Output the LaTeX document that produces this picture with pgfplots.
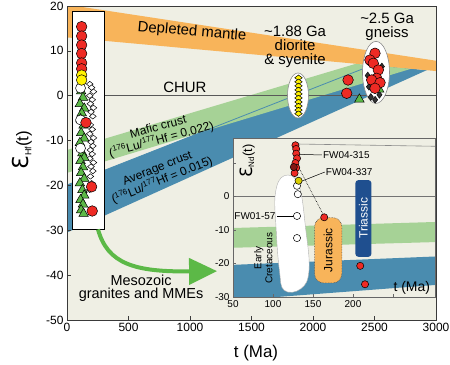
\documentclass[border=0pt]{standalone}
\usepackage{pgfplots}
\pgfplotsset{compat=1.18}
\usepackage{fontspec}
\setmainfont{Liberation Sans}
\newfontfamily\dejavu{DejaVu Sans}
\usetikzlibrary{arrows.meta}
\definecolor{bgc}{HTML}{EFEFE4}
\definecolor{dmc}{HTML}{F8B45A}
\definecolor{gbc}{HTML}{A6D296}
\definecolor{bbc}{HTML}{4A8CAF}
\definecolor{redc}{HTML}{EE2A24}
\definecolor{yelc}{HTML}{FFF200}
\definecolor{grc}{HTML}{5CB947}
\definecolor{navy}{HTML}{1F4F8F}
\definecolor{framec}{HTML}{3A3A3A}
\begin{document}
\begin{tikzpicture}[x=1bp,y=1bp]
\useasboundingbox (0,0) rectangle (450,364);
% ---------------- main axis ----------------
\begin{axis}[
  at={(67bp,44bp)}, anchor=south west,
  scale only axis, width=369bp, height=314bp,
  xmin=0, xmax=3000, ymin=-50, ymax=20,
  axis background/.style={fill=bgc},
  axis on top,
  axis line style={framec, line width=0.8pt},
  tick align=inside, tick pos=left, major tick length=4bp,
  tick style={framec, line width=0.6pt},
  xtick={0,500,1000,1500,2000,2500,3000},
  xticklabels={0,500,1000,1500,2000,2500,3000},
  ytick={-50,-40,-30,-20,-10,0,10,20},
  yticklabels={-50,-40,-30,-20,-10,0,10,20},
  ticklabel style={font=\fontsize{12}{12}\selectfont},
]
% bands
\addplot[fill=bbc, draw=none] coordinates {(0,-19.9) (2480,6.8) (2925,5.7) (0,-30.5)} -- cycle;
\addplot[fill=gbc, draw=none] coordinates {(0,-12.1) (2346,7.1) (2796,6.0) (0,-17.2)} -- cycle;
\addplot[bbc, line width=0.8bp] coordinates {(0,-19.9) (2480,6.8)};
\addplot[fill=dmc, draw=none] coordinates {(0,20.3) (3000,7.8) (3000,5.5) (0,13)} -- cycle;
% CHUR
\addplot[black!65, line width=0.7bp] coordinates {(0,0) (3000,0)};

% Mesozoic box
\draw[fill=white, draw=black, line width=0.5bp] (40,-29.7) rectangle (300,18.9);
\addplot[only marks, mark=diamond*, mark size=4.5bp, mark options={fill=white, draw=black, line width=0.5bp, yscale=0.6}] coordinates {
(185,2.6) (200,1.8) (215,0.9) (185,0.0) (205,-0.9) (190,-1.8) (215,-2.7) (195,-3.6) (210,-4.6) (190,-6.5) (205,-7.5) (185,-8.5) (215,-9.4) (195,-10.3) (210,-11.2) (190,-12.1) (205,-13.0) (185,-14.0) (215,-14.9) (195,-15.8) (210,-16.8) (190,-18.0) (200,-19.5) (185,-21)};
\addplot[only marks, mark=triangle*, mark size=5.5bp, mark options={fill=grc, draw=black, line width=0.5bp}] coordinates {
(115,1.0) (130,-0.4) (105,-1.8) (140,-2.8) (120,-3.9) (110,-5.2) (135,-6.6) (115,-8.3) (140,-9.5) (105,-10.5) (125,-12.8) (140,-13.8) (110,-14.5) (130,-15.9) (115,-17.2) (140,-18.5) (105,-19.5) (125,-21) (140,-22.2) (110,-23.2) (130,-24.2) (115,-25.5) (135,-26.3)};
\addplot[only marks, mark=*, mark size=5bp, mark options={fill=white, draw=black, line width=0.5bp}] coordinates {(110,1.7) (110,-5.4) (110,-11.7)};
\addplot[only marks, mark=*, mark size=5.3bp, mark options={fill=redc, draw=black, line width=0.5bp}] coordinates {
(119,15.4) (119,13.3) (119,11.3) (119,9.4) (119,7.3) (119,6.0) (154,-6) (200,-20.3) (205,-25.7)};
\addplot[only marks, mark=*, mark size=5.3bp, mark options={fill=yelc, draw=black, line width=0.5bp}] coordinates {(119,4.6) (119,3.5)};

% 1.88 Ga group
\draw[fill=white, draw=black!45, line width=0.6bp] (1878,0.05) ellipse [x radius=10.5bp, y radius=22.5bp];
\addplot[only marks, mark=diamond*, mark size=5bp, mark options={fill=yelc, draw=black, line width=0.5bp, yscale=0.55}] coordinates {
(1882,4.0) (1882,3.1) (1882,2.2) (1882,1.3) (1882,0.4) (1882,-0.5) (1882,-1.4) (1882,-2.3) (1882,-3.2) (1882,-4.0)};

% 2.5 Ga group
\draw[fill=white, draw=black!45, line width=0.6bp] (2512,5.2) ellipse [x radius=13.5bp, y radius=31bp];
\addplot[only marks, mark=diamond*, mark size=3.5bp, mark options={fill=black!80, draw=black, line width=0.4bp}] coordinates {
(2450,7.5) (2445,4.5) (2455,2.0) (2470,-0.3) (2505,-0.9) (2540,0.2) (2560,6.5)};
\addplot[only marks, mark=triangle*, mark size=4.5bp, mark options={fill=grc, draw=black, line width=0.5bp}] coordinates {(2545,1.3)};
\addplot[only marks, mark=*, mark size=5.3bp, mark options={fill=redc, draw=black, line width=0.5bp}] coordinates {
(2504,9.46) (2463,7.96) (2490,7.23) (2531,5.73) (2518,3.88) (2477,3.5) (2545,2.9) (2504,1.65) (2285,3.5) (2274,0.54)};
\addplot[only marks, mark=triangle*, mark size=5.5bp, mark options={fill=grc, draw=black, line width=0.5bp}] coordinates {(2377,-0.8)};

% arrow
\draw[grc, line width=4bp, -{Triangle[length=28bp, width=26bp]}] (252,-29.8) .. controls (330,-37.5) and (550,-39.3) .. (1220,-39.1);

% texts
\node[font=\fontsize{15}{15}\selectfont, rotate=-5] at (1016,14.2) {Depleted mantle};
\node[font=\fontsize{15}{15}\selectfont] at (959,1.9) {CHUR};
\node[font=\fontsize{12}{13}\selectfont, rotate=15, align=center] at (756,-8.5) {Mafic crust\\(\textsuperscript{176}Lu/\textsuperscript{177}Hf = 0.022)};
\node[font=\fontsize{12}{13}\selectfont, rotate=22, align=center] at (756,-17.7) {Average crust\\(\textsuperscript{176}Lu/\textsuperscript{177}Hf = 0.015)};
\node[font=\fontsize{15}{14.5}\selectfont, align=center] at (1854,10.9) {\textasciitilde1.88 Ga\\diorite\\\& syenite};
\node[font=\fontsize{15}{13.5}\selectfont, align=center] at (2602,15.4) {\textasciitilde2.5 Ga\\gneiss};
\node[font=\fontsize{14.5}{13.5}\selectfont, align=center] at (602,-42.9) {Mesozoic\\granites and MMEs};
\end{axis}

% ---------------- inset ----------------
\begin{axis}[
  at={(233bp,67bp)}, anchor=south west,
  scale only axis, width=202.4bp, height=159.1bp,
  xmin=50, xmax=303, ymin=-30, ymax=17.5,
  axis background/.style={fill=bgc},
  axis on top,
  axis line style={black!60, line width=0.6pt},
  tick align=inside, tick pos=left, major tick length=3bp,
  tick style={black!60, line width=0.5pt},
  xtick={50,100,150,200,250}, xticklabels={50,100,150,200,{}},
  ytick={-30,-20,-10,0,10}, yticklabels={-30,-20,-10,0,{}},
  ticklabel style={font=\fontsize{10}{10}\selectfont},
]
\addplot[fill=gbc, draw=none] coordinates {(50,-9.4) (303,-7.6) (303,-13.6) (50,-15.3)} -- cycle;
\addplot[fill=bbc, draw=none] coordinates {(50,-20.4) (303,-17.9) (303,-26.4) (50,-31)} -- cycle;
\addplot[black!55, line width=0.6bp] coordinates {(50,0) (303,0)};
\addplot[black!45, line width=0.6bp] coordinates {(125,15.7) (303,15.0)};

% Early Cretaceous blob
\draw[fill=white, draw=black!30, line width=0.4bp] plot[smooth cycle, tension=0.7] coordinates {
(114,6.2) (132,3.5) (141,-10) (145,-22) (135,-27.5) (114,-28) (108,-22) (104,-10) (103,1)};
\node[font=\fontsize{10}{11}\selectfont, rotate=90, align=center] at (88,-18.4) {Early\\Cretaceous};
% Jurassic
\draw[fill=dmc, draw=black!70, densely dotted, line width=0.6bp, rounded corners=9bp] (152,-25.8) rectangle (186,-6.3);
\node[font=\fontsize{12}{12}\selectfont, rotate=90] at (169,-16) {Jurassic};
% Triassic
\draw[fill=navy, draw=none, rounded corners=3bp] (203,-18) rectangle (223,4.9);
\node[font=\fontsize{12}{12}\selectfont, rotate=90, text=white] at (213,-6.5) {Triassic};

% leader lines
\draw[black, densely dotted, line width=0.6bp] (133,8.3) -- (163,-5.5);
\draw[black, line width=0.5bp] (131,12.6) -- (161,12.4) node[right, inner sep=1bp, font=\fontsize{10}{10}\selectfont] {FW04-315};
\draw[black, line width=0.5bp] (135,4.5) -- (164.6,7.3) node[right, inner sep=1bp, font=\fontsize{10}{10}\selectfont] {FW04-337};
\draw[black, line width=0.5bp] (128,-5.8) -- (104.6,-5.8) node[left, inner sep=1bp, font=\fontsize{10}{10}\selectfont] {FW01-57};

% points
\addplot[only marks, mark=*, mark size=3.6bp, mark options={fill=white, draw=black, line width=0.5bp}] coordinates {(130,3.2) (131,0.7) (130,-5.8) (130,-12.4)};
\addplot[only marks, mark=*, mark size=3.6bp, mark options={fill=yelc!85!black, draw=black, line width=0.5bp}] coordinates {(132,4.7)};
\addplot[only marks, mark=*, mark size=3.6bp, mark options={fill=redc, draw=black, line width=0.5bp}] coordinates {
(128,15.3) (129,14.2) (129,12.8) (130,11.4) (128,10) (129,8.6) (127,7.0) (164,-6.2) (209,-20.7) (215,-26.2)};
\addplot[only marks, mark=*, mark size=3.6bp, mark options={fill=redc!55!black, draw=black, line width=0.5bp}] coordinates {(126,8.8)};

\node[rotate=90] at (67.8,10.6) {{\dejavu\fontsize{17}{17}\selectfont Ɛ}{\fontsize{8}{8}\selectfont\raisebox{-2bp}{Nd}}{\fontsize{13}{13}\selectfont(t)}};
\node[font=\fontsize{14}{14}\selectfont] at (273.5,-27.3) {t (Ma)};
\end{axis}

% axis labels (main)
\node[font=\fontsize{17}{17}\selectfont] at (256,10.5) {t (Ma)};
\node[rotate=90] at (22,214) {{\dejavu\fontsize{22}{22}\selectfont Ɛ}{\fontsize{9}{9}\selectfont\raisebox{-3bp}{Hf}}{\fontsize{17}{17}\selectfont(t)}};
\end{tikzpicture}
\end{document}
